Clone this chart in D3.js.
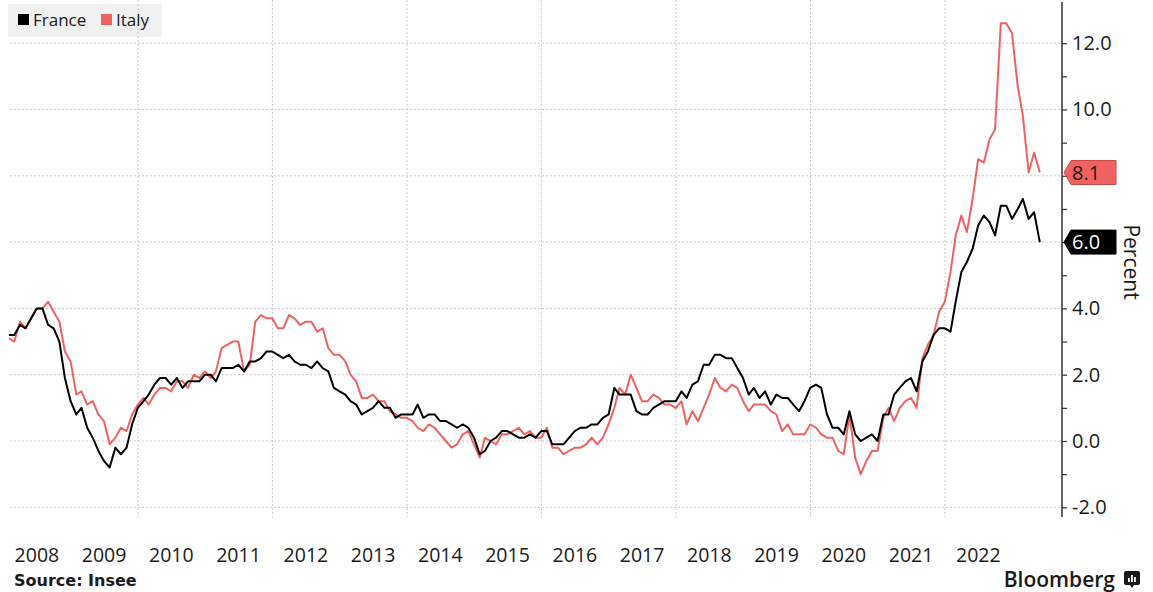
<!DOCTYPE html>
<html><head><meta charset="utf-8">
<script src="https://cdn.jsdelivr.net/npm/d3@7"></script>
<style>body{margin:0;background:#fff;} svg{display:block;font-family:"Open Sans","Noto Sans",sans-serif;}</style>
</head><body>
<svg id="chart" width="1153" height="592"></svg>
<script>
// ---- data: monthly annual inflation (%), Jan 2008 – May 2023 ----
const startYear = 2008;
const seriesNames = ["France", "Italy"];
const france = [
  3.2,3.2,3.5,3.4,3.7,4.0,4.0,3.5,3.4,3.0,1.9,1.2,
  0.8,1.0,0.4,0.1,-0.3,-0.6,-0.8,-0.2,-0.4,-0.2,0.5,1.0,
  1.2,1.4,1.7,1.9,1.9,1.7,1.9,1.6,1.8,1.8,1.8,2.0,
  2.0,1.8,2.2,2.2,2.2,2.3,2.1,2.4,2.4,2.5,2.7,2.7,
  2.6,2.5,2.6,2.4,2.3,2.3,2.2,2.4,2.2,2.1,1.6,1.5,
  1.4,1.2,1.1,0.8,0.9,1.0,1.2,1.0,1.0,0.7,0.8,0.8,
  0.8,1.1,0.7,0.8,0.8,0.6,0.6,0.5,0.4,0.5,0.4,0.1,
  -0.4,-0.3,0.0,0.1,0.3,0.3,0.2,0.1,0.1,0.2,0.1,0.3,
  0.3,-0.1,-0.1,-0.1,0.1,0.3,0.4,0.4,0.5,0.5,0.7,0.8,
  1.6,1.4,1.4,1.4,0.9,0.8,0.8,1.0,1.1,1.2,1.2,1.2,
  1.5,1.3,1.7,1.8,2.3,2.3,2.6,2.6,2.5,2.5,2.2,1.9,
  1.4,1.6,1.3,1.5,1.1,1.4,1.3,1.3,1.1,0.9,1.2,1.6,
  1.7,1.6,0.8,0.4,0.4,0.2,0.9,0.2,0.0,0.1,0.2,0.0,
  0.8,0.8,1.4,1.6,1.8,1.9,1.5,2.4,2.7,3.2,3.4,3.4,
  3.3,4.2,5.1,5.4,5.8,6.5,6.8,6.6,6.2,7.1,7.1,6.7,
  7.0,7.3,6.7,6.9,6.0
];
const italy = [
  3.1,3.0,3.6,3.4,3.7,4.0,4.0,4.2,3.9,3.6,2.7,2.4,
  1.4,1.5,1.1,1.2,0.8,0.6,-0.1,0.1,0.4,0.3,0.8,1.1,
  1.3,1.1,1.4,1.6,1.6,1.5,1.8,1.8,1.6,2.0,1.9,2.1,
  1.9,2.1,2.8,2.9,3.0,3.0,2.1,2.3,3.6,3.8,3.7,3.7,
  3.4,3.4,3.8,3.7,3.5,3.6,3.6,3.3,3.4,2.8,2.6,2.6,
  2.4,2.0,1.8,1.3,1.3,1.4,1.2,1.2,0.9,0.8,0.7,0.7,
  0.6,0.4,0.3,0.5,0.4,0.2,0.0,-0.2,-0.1,0.2,0.3,-0.1,
  -0.5,0.1,0.0,-0.1,0.2,0.2,0.3,0.4,0.2,0.3,0.1,0.1,
  0.4,-0.2,-0.2,-0.4,-0.3,-0.2,-0.2,-0.1,0.1,-0.1,0.1,0.5,
  1.0,1.6,1.4,2.0,1.6,1.2,1.2,1.4,1.3,1.1,1.1,1.0,
  1.2,0.5,0.9,0.6,1.0,1.4,1.9,1.6,1.5,1.7,1.6,1.2,
  0.9,1.1,1.1,1.1,0.9,0.8,0.3,0.5,0.2,0.2,0.2,0.5,
  0.4,0.2,0.1,0.1,-0.3,-0.4,0.8,-0.5,-1.0,-0.6,-0.3,-0.3,
  0.7,1.0,0.6,1.0,1.2,1.3,1.0,2.5,2.9,3.2,3.9,4.2,
  5.1,6.2,6.8,6.3,7.3,8.5,8.4,9.1,9.4,12.6,12.6,12.3,
  10.7,9.8,8.1,8.7,8.1
];
const yearLabels = ["2008","2009","2010","2011","2012","2013","2014","2015","2016","2017","2018","2019","2020","2021","2022"];
const gridYears = [2010, 2012, 2014, 2016, 2018, 2020, 2022];
const yTicks = [-2, -1, 0, 1, 2, 3, 4, 5, 6, 7, 8, 9, 10, 11, 12];
const sourceText = "Source: Insee";
const unitLabel = "Percent";

// ---- styles ----
const colors = {France: "#000000", Italy: "#f0625f"};
const axisX = 1062;

const svg = d3.select("#chart");

const x = d3.scaleTime()
  .domain([new Date(2010, 0, 1), new Date(2022, 0, 1)])
  .range([138, 945]);
const y = d3.scaleLinear().domain([-2, 12]).range([507.3, 43.2]);

const monthDate = i => new Date(startYear, i + 1, 0); // end of month
const series = seriesNames.map(name => ({
  name,
  values: (name === "France" ? france : italy).map((v, i) => ({date: monthDate(i), v}))
}));
const lastVals = series.map(s => s.values[s.values.length - 1].v);

// legend background (drawn first so gridlines show through)
svg.append("rect").attr("x", 8).attr("y", 4).attr("width", 154).attr("height", 33).attr("fill", "#f1f1f1");

// horizontal gridlines
svg.append("g").selectAll("line")
  .data(yTicks.filter(d => d % 2 === 0))
  .join("line")
  .attr("x1", 10).attr("x2", axisX)
  .attr("y1", d => y(d)).attr("y2", d => y(d))
  .attr("stroke", "#c8c8c8").attr("stroke-width", 1)
  .attr("stroke-dasharray", "2,2");

// vertical gridlines
svg.append("g").selectAll("line")
  .data(gridYears)
  .join("line")
  .attr("x1", d => x(new Date(d, 0, 1))).attr("x2", d => x(new Date(d, 0, 1)))
  .attr("y1", 0).attr("y2", 517)
  .attr("stroke", "#c8c8c8").attr("stroke-width", 1)
  .attr("stroke-dasharray", "2,2");

// lines (Italy first, France on top)
const line = d3.line().x(d => x(d.date)).y(d => y(d.v));
svg.append("g").selectAll("path")
  .data(series.slice().reverse())
  .join("path")
  .attr("d", d => line(d.values))
  .attr("fill", "none")
  .attr("stroke", d => colors[d.name])
  .attr("stroke-width", 2)
  .attr("stroke-linejoin", "round");

// y axis
const yAxis = d3.axisRight(y)
  .tickValues(yTicks)
  .tickSize(5)
  .tickPadding(5)
  .tickFormat(d => (d % 2 === 0 && !lastVals.some(v => Math.abs(y(v) - y(d)) < 22)) ? d.toFixed(1) : "");
const ga = svg.append("g").attr("transform", `translate(${axisX},0)`).call(yAxis);
ga.select(".domain").remove();
ga.selectAll(".tick line").attr("stroke", "#333").attr("stroke-width", 1.2);
ga.selectAll(".tick text")
  .attr("font-family", '"Open Sans","Noto Sans",sans-serif')
  .attr("font-size", 20).attr("fill", "#1a1a1a");
svg.append("line")
  .attr("x1", axisX).attr("x2", axisX).attr("y1", 2).attr("y2", 517)
  .attr("stroke", "#333").attr("stroke-width", 1.5);

// unit label
svg.append("text")
  .attr("transform", `translate(1124,262) rotate(90)`)
  .attr("text-anchor", "middle")
  .attr("font-size", 21).attr("fill", "#1a1a1a")
  .text(unitLabel);

// end value tags
series.forEach(s => {
  const last = s.values[s.values.length - 1];
  const yc = y(last.v);
  const g = svg.append("g");
  const tip = axisX + 2, shoulder = axisX + 9, right = 1116, hh = 12;
  g.append("path")
    .attr("d", `M${tip},${yc} L${shoulder},${yc - hh} L${right},${yc - hh} L${right},${yc + hh} L${shoulder},${yc + hh} Z`)
    .attr("fill", colors[s.name])
    .attr("stroke", s.name === "Italy" ? "#c94a47" : "#000")
    .attr("stroke-width", 1);
  g.append("text")
    .attr("x", shoulder + 1).attr("y", yc)
    .attr("dy", "0.36em")
    .attr("font-size", 20)
    .attr("fill", s.name === "Italy" ? "#1a1a1a" : "#ffffff")
    .text(last.v.toFixed(1));
});

// x labels (centred mid-year)
svg.append("g").selectAll("text")
  .data(yearLabels)
  .join("text")
  .attr("x", d => x(new Date(+d, 6, 1)))
  .attr("y", 562)
  .attr("text-anchor", "middle")
  .attr("font-size", 19.5).attr("fill", "#1a1a1a")
  .text(d => d);

// legend items
const lg = svg.append("g");
const legendX = [18, 101];
seriesNames.forEach((n, i) => {
  lg.append("rect").attr("x", legendX[i]).attr("y", 14).attr("width", 11).attr("height", 11).attr("fill", colors[n]);
  lg.append("text").attr("x", legendX[i] + 15).attr("y", 26)
    .attr("font-size", 17).attr("fill", "#1a1a1a").text(n);
});

// footer
svg.append("text").attr("x", 14).attr("y", 586)
  .attr("font-family", '"DejaVu Sans",sans-serif').attr("font-weight", "bold")
  .attr("font-size", 16).attr("fill", "#1a1a1a").text(sourceText);
svg.append("text").attr("x", 1115).attr("y", 587)
  .attr("text-anchor", "end")
  .attr("font-family", '"Open Sans",sans-serif').attr("font-weight", 600)
  .attr("font-size", 21).attr("fill", "#1a1a1a").text("Bloomberg");
const logo = svg.append("g").attr("transform", "translate(1124,571)");
logo.append("rect").attr("width", 16).attr("height", 14).attr("rx", 2).attr("fill", "#1a1a1a");
logo.append("path").attr("d", "M6,14 L8,17 L10,14 Z").attr("fill", "#1a1a1a");
[[4,7],[7,4],[10,6]].forEach(([bx, by]) =>
  logo.append("rect").attr("x", bx).attr("y", by).attr("width", 1.8).attr("height", 11 - by).attr("fill", "#fff"));
</script>
</body></html>
